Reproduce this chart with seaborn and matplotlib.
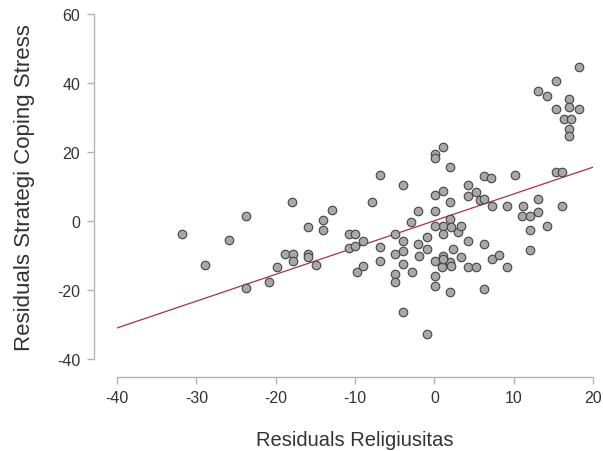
import matplotlib
matplotlib.use("Agg")
import matplotlib.pyplot as plt
import seaborn as sns
import pandas as pd

# Residuals Religiusitas (x) and Residuals Strategi Coping Stress (y)
res_religiusitas = [
    -31.8, -28.9, -25.9, -23.8, -23.8, -20.9, -19.8, -18.8, -17.9, -17.8,
    -17.8, -15.9, -15.9, -15.9, -14.9, -14.0, -14.0, -12.9, -10.8, -10.0,
    -10.8, -10.0, -9.7, -9.0, -9.0, -7.8, -6.9, -6.9, -6.8, -4.9,
    -4.9, -4.9, -4.9, -3.9, -3.9, -3.9, -3.9, -3.9, -2.9, -2.8,
    -2.0, -2.0, -1.9, -0.9, -0.9, -0.9, 0.1, 0.1, 1.1, 0.1,
    1.1, 0.1, 0.1, 0.1, 0.1, 1.0, 1.1, 2.0, 2.0, 2.0,
    2.3, 2.0, 2.0, 3.0, 3.3, 3.3, 4.2, 4.2, 4.2, 4.2,
    5.2, 5.7, 5.2, 6.2, 7.2, 6.2, 6.2, 7.3, 7.3, 8.2,
    9.2, 9.2, 10.2, 11.1, 11.2, 12.1, 12.1, 12.1, 13.1, 13.1,
    14.2, 15.3, 16.1, 16.1, 18.2, 15.3, 13.1, 14.2, 17.0, 15.3,
    17.0, 18.2, 16.3, 17.2, 17.0, 17.0, 1.1, 2.1, 1.1, 0.1,
    1.1, 2.1, 6.2,
]
res_coping_stress = [
    -3.8, -12.8, -5.5, 1.4, -19.4, -17.7, -13.3, -9.6, 5.5, -9.6,
    -11.6, -1.7, -9.6, -10.4, -12.8, 0.3, -2.6, 3.2, -3.8, -3.8,
    -7.8, -7.2, -14.8, -5.8, -13.0, 5.5, 13.3, -7.5, -11.6, -3.8,
    -9.6, -15.4, -17.7, 10.4, -5.8, -8.7, -12.5, -26.4, -0.3, -14.8,
    2.9, -6.7, -10.1, -4.6, -8.1, -32.8, 19.4, 18.3, 21.4, 7.5,
    8.7, 2.9, -11.6, -15.9, -18.8, -13.3, -10.1, 15.7, 5.5, 0.6,
    -8.1, -11.9, -20.6, -3.2, -1.4, -10.4, 10.4, 7.2, -5.8, -13.3,
    8.4, 6.1, -13.3, 13.0, 12.5, 6.4, -6.7, 4.3, -11.0, -9.9,
    4.3, -13.3, 13.3, 1.4, 4.3, 1.4, -2.6, -8.4, 6.4, 2.6,
    -1.4, 14.2, 14.2, 4.3, 44.6, 40.6, 37.7, 36.2, 35.4, 32.5,
    33.0, 32.5, 29.6, 29.6, 26.7, 24.6, -1.4, -1.7, -3.8, -1.4,
    -11.0, -13.0, -19.7,
]

# Fitted regression line (endpoints)
fit_x = [-40, 20]
fit_y = [-31.0, 15.6]

x_ticks = [-40, -30, -20, -10, 0, 10, 20]
y_ticks = [-40, -20, 0, 20, 40, 60]

df = pd.DataFrame({"x": res_religiusitas, "y": res_coping_stress})
line_df = pd.DataFrame({"x": fit_x, "y": fit_y})

sns.set_style("white")
plt.rcParams["font.family"] = ["Liberation Sans", "DejaVu Sans"]

fig = plt.figure(figsize=(6.03, 4.52), dpi=100)
ax = fig.add_axes([117 / 603, 1 - 360 / 452, (593 - 117) / 603, (360 - 15) / 452])

sns.lineplot(data=line_df, x="x", y="y", ax=ax, color="#a8343c", linewidth=0.9, zorder=1)
sns.scatterplot(data=df, x="x", y="y", ax=ax, s=38, color="#a8a8a8",
                edgecolor="#444444", linewidth=0.8, zorder=2)

ax.set_xlim(-40, 20)
ax.set_ylim(-40, 60)
ax.set_xticks(x_ticks)
ax.set_yticks(y_ticks)
ax.set_xticklabels([str(v) for v in x_ticks])
ax.set_yticklabels([str(v) for v in y_ticks])

for side in ["top", "right"]:
    ax.spines[side].set_visible(False)
ax.spines["left"].set_position(("outward", 16.5))
ax.spines["bottom"].set_position(("outward", 13))
for side in ["left", "bottom"]:
    ax.spines[side].set_color("#b4b4b4")
    ax.spines[side].set_linewidth(1.0)

ax.tick_params(axis="both", which="major", length=5, width=1.0, color="#b4b4b4",
               labelsize=11.5, labelcolor="#333333", pad=4, direction="out")
ax.tick_params(axis="x", bottom=True)
ax.tick_params(axis="y", left=True, pad=5)

ax.set_xlabel("Residuals Religiusitas", fontsize=14.5, color="#333333", labelpad=18)
ax.set_ylabel("Residuals Strategi Coping Stress", fontsize=16, color="#333333", labelpad=16)

fig.savefig("out.png", dpi=100)
